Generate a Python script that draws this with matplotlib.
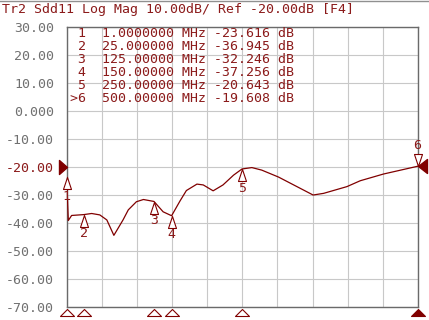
import matplotlib
matplotlib.use("Agg")
import matplotlib.pyplot as plt
from matplotlib.path import Path
from matplotlib.transforms import blended_transform_factory
import numpy as np

# ---- data ----
header = "Tr2 Sdd11 Log Mag 10.00dB/ Ref -20.00dB [F4]"
freq_mhz = [1, 3.3, 8, 25, 36.5, 48, 58, 68, 81, 88.5, 100, 110, 125, 138, 150,
            162, 171, 186, 195, 209, 223, 238, 250, 264, 278, 302, 351, 366,
            399, 418, 451, 500]
sdd11_db = [-23.6, -39.0, -37.2, -36.9, -36.5, -37.0, -38.8, -44.3, -38.8, -35.2,
            -32.3, -31.5, -32.2, -35.9, -37.3,
            -32.0, -28.3, -26.0, -26.3, -28.4, -26.3, -22.8, -20.6, -20.1, -21.0,
            -23.5, -29.9, -29.3, -26.9, -24.8, -22.4, -19.6]
marker_ids = ["1", "2", "3", "4", "5", ">6"]
marker_freq = [1.0, 25.0, 125.0, 150.0, 250.0, 500.0]
marker_freq_txt = ["1.0000000", "25.000000", "125.00000", "150.00000", "250.00000", "500.00000"]
marker_val = [-23.616, -36.945, -32.246, -37.256, -20.643, -19.608]
y_ticks = [30, 20, 10, 0, -10, -20, -30, -40, -50, -60, -70]
y_tick_labels = ["30.00", "20.00", "10.00", "0.000", "-10.00", "-20.00", "-30.00",
                 "-40.00", "-50.00", "-60.00", "-70.00"]
ref_level = -20

W, H = 429, 320
RED = "#8b1a1a"
TRACE = "#800000"
GRAY = "#707070"
FONT = "DejaVu Sans Mono"
FS = 9.5

def px(x, y):
    return x / W, 1 - y / H

fig = plt.figure(figsize=(W / 100, H / 100), dpi=100)
fig.patch.set_facecolor("white")
left, right, top, bottom = 66.7, 418.0, 27.3, 307.3
ax = fig.add_axes([left / W, 1 - bottom / H, (right - left) / W, (bottom - top) / H])
ax.set_xlim(1, 500)
ax.set_ylim(-70, 30)
ax.set_xticks(np.linspace(1, 500, 11))
ax.set_yticks(y_ticks)
ax.set_yticklabels(y_tick_labels, fontfamily=FONT, fontsize=FS, color=GRAY)
for lab, v in zip(ax.get_yticklabels(), y_ticks):
    if v == ref_level:
        lab.set_color(RED)
ax.tick_params(axis="x", length=0, labelbottom=False)
ax.tick_params(axis="y", length=0, pad=9)
ax.grid(True, color="#c8c8c8", linewidth=0.8)
ax.set_axisbelow(True)
for s in ax.spines.values():
    s.set_color("#6a6a6a")
    s.set_linewidth(1.0)

ax.plot(freq_mhz, sdd11_db, color=TRACE, linewidth=0.9, zorder=3)

def mk(verts):
    return Path(verts + [verts[0]], [Path.MOVETO] + [Path.LINETO] * (len(verts) - 1) + [Path.CLOSEPOLY])

PT = 0.72  # points per pixel
up_tri = mk([(0, 0), (-4, -12), (4, -12)])
down_tri = mk([(0, 0), (-4, 12), (4, 12)])
for i, (f, v) in enumerate(zip(marker_freq, marker_val)):
    num = marker_ids[i].lstrip(">")
    if i == len(marker_freq) - 1:
        ax.plot([f], [v], marker=down_tri, markersize=24 * PT, markerfacecolor="white",
                markeredgecolor=TRACE, markeredgewidth=0.8, clip_on=False, zorder=5)
        ax.annotate(num, (f, v), xytext=(-1, 21), textcoords="offset pixels",
                    ha="center", va="center", fontfamily=FONT, fontsize=FS, color=RED,
                    annotation_clip=False)
    else:
        ax.plot([f], [v], marker=up_tri, markersize=24 * PT, markerfacecolor="white",
                markeredgecolor=TRACE, markeredgewidth=0.8, clip_on=False, zorder=5)
        ax.annotate(num, (f, v), xytext=(0, -19), textcoords="offset pixels",
                    ha="center", va="center", fontfamily=FONT, fontsize=FS, color=RED,
                    annotation_clip=False)

# bottom marker position indicators
trans = blended_transform_factory(ax.transData, ax.transAxes)
bot_tri = mk([(0, 0), (-7, -7), (7, -7)])
for i, f in enumerate(marker_freq):
    active = i == len(marker_freq) - 1
    ax.plot([f], [-0.005], marker=bot_tri, markersize=14 * PT, transform=trans,
            markerfacecolor=TRACE if active else "white", markeredgecolor=TRACE,
            markeredgewidth=0.8, clip_on=False, zorder=6)

# reference level indicator (left) and active trace indicator (right)
ax.plot([1], [ref_level], marker=mk([(0, 0), (-8, 7), (-8, -7)]), markersize=16 * PT,
        color=TRACE, clip_on=False, zorder=6)
ax.plot([500], [marker_val[-1]], marker=mk([(0, 0), (9, 7), (9, -7)]), markersize=18 * PT,
        color=TRACE, clip_on=False, zorder=6)

# header
fig.text(*px(2.5, 9), header, fontfamily=FONT, fontsize=FS, color=RED, ha="left", va="center")
fig.add_artist(plt.Line2D([0, 1], [1 - 0.5 / H, 1 - 0.5 / H], transform=fig.transFigure,
                          color="#909090", linewidth=1.0))

# marker table
for i in range(len(marker_ids)):
    row = f"{marker_ids[i]:>2}  {marker_freq_txt[i]} MHz {marker_val[i]:.3f} dB"
    fig.text(*px(70, 33.5 + 13 * i), row, fontfamily=FONT, fontsize=FS, color=RED,
             ha="left", va="center")

fig.savefig("out.png", dpi=100, facecolor="white")
